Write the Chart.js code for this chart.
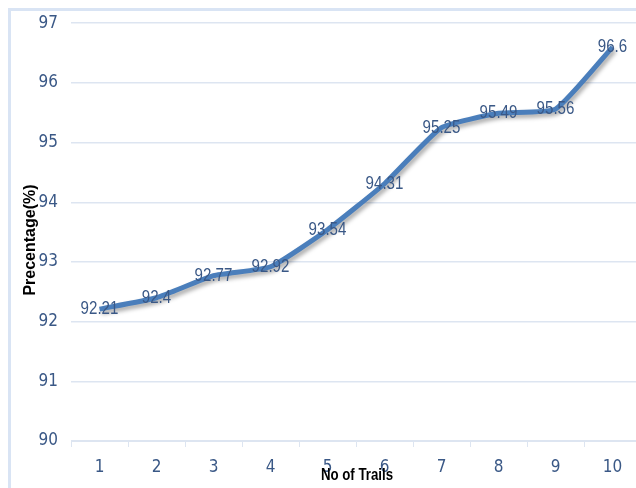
<!DOCTYPE html>
<html>
<head>
<meta charset="utf-8">
<script src="https://cdn.jsdelivr.net/npm/chart.js@4/dist/chart.umd.min.js"></script>
<style>
  html, body { margin: 0; padding: 0; background: #ffffff; overflow: hidden; }
  #wrap { position: relative; width: 645px; height: 488px; }
</style>
</head>
<body>
<div id="wrap"><canvas id="c" width="645" height="488"></canvas></div>
<script>
// Trial numbers and the accuracy reached on each trial
const trials = ['1', '2', '3', '4', '5', '6', '7', '8', '9', '10'];
const percentage = [92.21, 92.4, 92.77, 92.92, 93.54, 94.31, 95.25, 95.49, 95.56, 96.6];
const yMin = 90;
const yMax = 97;
const xTitle = 'No of Trails';
const yTitle = 'Precentage(%)';

const narrowFamily = '"DejaVu Sans", sans-serif';
const textColor = '#3a5886';
const gridColor = '#dde5f1';

// draw text squeezed horizontally, centred on (x, y)
function narrowText(ctx, text, x, y, squeeze) {
  ctx.save();
  ctx.translate(x, y);
  ctx.scale(squeeze, 1);
  ctx.fillText(text, 0, 0);
  ctx.restore();
}

// light frame around the whole figure
const framePlugin = {
  id: 'frame',
  beforeDraw(chart) {
    const ctx = chart.ctx;
    ctx.save();
    ctx.strokeStyle = '#d9e4f4';
    ctx.lineWidth = 3;
    ctx.strokeRect(9.5, 9.5, 700, 600);
    ctx.restore();
  }
};

// soft drop shadow under the line
const shadowPlugin = {
  id: 'lineShadow',
  beforeDatasetDraw(chart) {
    const ctx = chart.ctx;
    ctx.save();
    ctx.shadowColor = 'rgba(0,0,0,0.35)';
    ctx.shadowBlur = 4;
    ctx.shadowOffsetX = 2;
    ctx.shadowOffsetY = 3;
  },
  afterDatasetDraw(chart) {
    chart.ctx.restore();
  }
};

// value labels centred on each point, plus the two axis titles
const textPlugin = {
  id: 'texts',
  afterDatasetsDraw(chart) {
    const ctx = chart.ctx;
    const meta = chart.getDatasetMeta(0);
    ctx.save();
    ctx.font = '18px "Liberation Sans", Arial, sans-serif';
    ctx.fillStyle = textColor;
    ctx.textAlign = 'center';
    ctx.textBaseline = 'middle';
    meta.data.forEach((pt, i) => {
      narrowText(ctx, String(percentage[i]), pt.x, pt.y, 0.84);
    });
    ctx.restore();
  },
  afterDraw(chart) {
    const ctx = chart.ctx;
    ctx.save();
    ctx.fillStyle = '#000000';
    ctx.textAlign = 'center';
    ctx.textBaseline = 'middle';
    ctx.font = 'bold 17px "Liberation Sans", Arial, sans-serif';
    narrowText(ctx, xTitle, 357, 475, 0.78);
    ctx.translate(31, 240);
    ctx.rotate(-Math.PI / 2);
    ctx.font = 'bold 16px "Liberation Sans", Arial, sans-serif';
    ctx.fillText(yTitle, 0, 0);
    ctx.restore();
  }
};

// the width keyword rides in the weight slot of the font string
const tickFont = { family: narrowFamily, size: 17, weight: 'condensed' };

new Chart(document.getElementById('c'), {
  type: 'line',
  data: {
    labels: trials,
    datasets: [{
      data: percentage,
      borderColor: '#4a7ebb',
      borderWidth: 5,
      pointRadius: 0,
      pointHoverRadius: 0,
      tension: 0.15,
      fill: false
    }]
  },
  options: {
    responsive: false,
    animation: false,
    events: [],
    layout: { padding: { top: 21, right: 4, left: 0, bottom: 0 } },
    plugins: { legend: { display: false }, tooltip: { enabled: false } },
    scales: {
      x: {
        offset: true,
        grid: {
          offset: true,
          drawOnChartArea: false,
          drawTicks: true,
          tickLength: 6,
          color: gridColor
        },
        border: { display: true, color: gridColor, width: 1 },
        ticks: {
          color: textColor,
          font: tickFont,
          padding: 10,
          maxRotation: 0
        },
        afterFit(scale) { scale.height = 47; }
      },
      y: {
        min: yMin,
        max: yMax,
        ticks: {
          stepSize: 1,
          color: textColor,
          font: tickFont,
          padding: 13
        },
        grid: { color: gridColor, drawTicks: false, lineWidth: 1.5 },
        border: { display: false },
        afterFit(scale) { scale.width = 71; }
      }
    }
  },
  plugins: [framePlugin, shadowPlugin, textPlugin]
});
</script>
</body>
</html>
